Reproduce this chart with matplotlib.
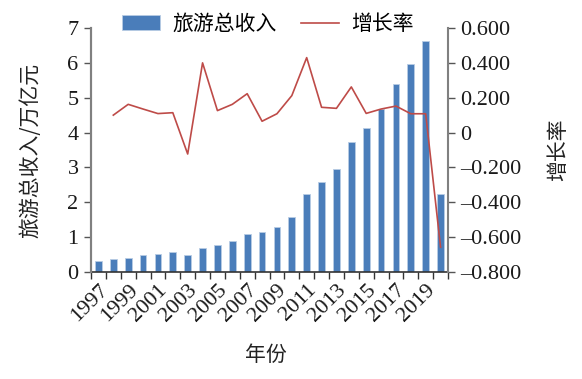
import matplotlib
matplotlib.use("Agg")
import matplotlib.pyplot as plt
from matplotlib import font_manager
import numpy as np

years = list(range(1997, 2021))
revenue = [0.32, 0.36, 0.40, 0.50, 0.53, 0.56, 0.50, 0.70, 0.77, 0.89, 1.10, 1.16,
           1.29, 1.58, 2.25, 2.59, 2.95, 3.73, 4.13, 4.69, 5.40, 5.97, 6.63, 2.23]
growth_years = list(range(1998, 2021))
growth = [0.100, 0.162, 0.135, 0.109, 0.114, -0.123, 0.400, 0.126, 0.162, 0.223, 0.065,
          0.108, 0.212, 0.430, 0.145, 0.139, 0.262, 0.110, 0.135, 0.152, 0.108, 0.108, -0.658]
left_ticks = [0, 1, 2, 3, 4, 5, 6, 7]
right_ticks = [0.6, 0.4, 0.2, 0.0, -0.2, -0.4, -0.6, -0.8]

serif_path = None
for f in font_manager.fontManager.ttflist:
    if f.name == 'Liberation Serif' and f.style == 'normal' and f.weight in (400, 'normal'):
        serif_path = f.fname
        break
if serif_path is None:
    for f in font_manager.fontManager.ttflist:
        if 'Serif' in f.name and 'CJK' not in f.name and f.style == 'normal':
            serif_path = f.fname
            break
num_fp = font_manager.FontProperties(fname=serif_path, size=16) if serif_path else \
    font_manager.FontProperties(family='serif', size=16)
cjk = ['Noto Sans CJK SC', 'DejaVu Sans']

fig = plt.figure(figsize=(5.82, 3.79), dpi=100)
ax = fig.add_axes([91/582, 1-272/379, (448-91)/582, (272-28)/379])
ax2 = ax.twinx()

x = np.arange(len(years))
bars = ax.bar(x, revenue, width=0.45, color='#4A7DBA', edgecolor='#B8CCE4', linewidth=0.6,
              label='旅游总收入', zorder=2)
gx = np.array([years.index(y) for y in growth_years])
line, = ax2.plot(gx, growth, color='#BE4B48', linewidth=1.2, label='增长率', zorder=3)

ax.set_xlim(-0.5, len(years) - 0.5)
ax.set_ylim(0, 7)
ax2.set_ylim(-0.8, 0.6)

ax.set_yticks(left_ticks)
ax.set_yticklabels([str(t) for t in left_ticks])
ax2.set_yticks(right_ticks)
def fmt(v):
    if abs(v) < 1e-9:
        return '0'
    s = f"{abs(v):.3f}"
    return ('–' + s) if v < 0 else s
ax2.set_yticklabels([fmt(t) for t in right_ticks])

ax.set_xticks(x[::2])
ax.set_xticklabels([str(y) for y in years[::2]], rotation=45, ha='right',
                   rotation_mode='anchor')
for lab in ax.get_xticklabels() + ax.get_yticklabels() + ax2.get_yticklabels():
    lab.set_fontproperties(num_fp)
    lab.set_color('#1a1a1a')
ax.set_xticks(np.arange(-0.5, len(years), 1), minor=True)
ax.tick_params(axis='x', which='major', length=0, pad=6)
ax.tick_params(axis='x', which='minor', length=5, width=1, color='#333333', direction='out')
ax.tick_params(axis='y', length=5, width=1, color='#555555', pad=4)
ax2.tick_params(axis='y', length=5, width=1, color='#555555', pad=4)

for a in (ax, ax2):
    a.spines['top'].set_visible(False)
for s in ('left', 'right'):
    ax2.spines[s].set_color('#808080')
    ax2.spines[s].set_linewidth(1.5)
ax.spines['left'].set_color('#808080')
ax.spines['left'].set_linewidth(1.5)
ax.spines['right'].set_visible(False)
ax.spines['bottom'].set_color('#333333')
ax.spines['bottom'].set_linewidth(1.2)
ax2.spines['bottom'].set_visible(False)

fig.text(30/582, 1-150/379, '旅游总收入/万亿元', rotation=90, ha='center', va='center',
         fontsize=15, family=cjk, color='#222222')
fig.text(558/582, 1-150/379, '增长率', rotation=90, ha='center', va='center',
         fontsize=15, family=cjk, color='#222222')
fig.text(266/582, 1-355/379, '年份', ha='center', va='center',
         fontsize=15, family=cjk, color='#222222')

leg = fig.legend(handles=[bars, line], labels=['旅游总收入', '增长率'], ncol=2,
                 loc='center', bbox_to_anchor=(268/582, 1-24/379), frameon=False,
                 prop={'family': cjk, 'size': 15}, handlelength=1.8, columnspacing=1.2,
                 handletextpad=0.6)

fig.savefig('out.png', dpi=100)
